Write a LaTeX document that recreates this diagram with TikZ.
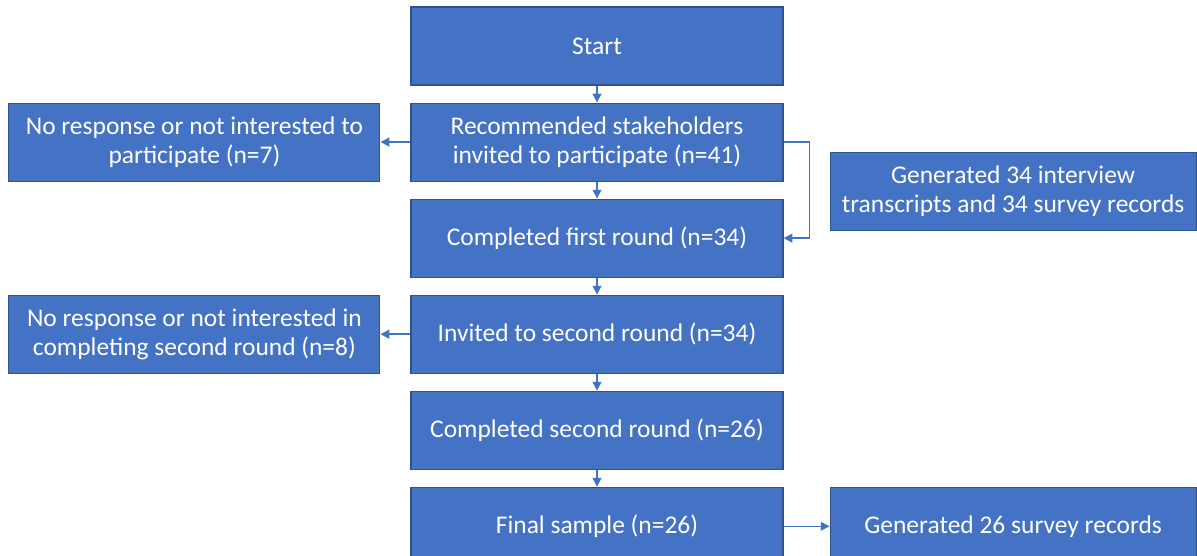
\documentclass[tikz,border=0pt]{standalone}
\usepackage{fontspec}
\setmainfont{Carlito}
\usetikzlibrary{positioning,arrows.meta}
\definecolor{boxblue}{HTML}{4472C4}
\definecolor{edgeblue}{HTML}{2F528F}
\begin{document}
\begin{tikzpicture}[node distance={0.34cm}, line width=0.85pt,
    main/.style = {draw=edgeblue, line width=0.6pt, fill=boxblue, text=white, align=center,
                   minimum width=7.44cm, minimum height=1.56cm, inner sep=2pt,
                   font=\fontsize{14.5}{16.5}\selectfont},
    side/.style = {main, minimum width=7.42cm},
    link/.style = {draw=boxblue, -{Triangle[length=5pt,width=5pt]}}]
    \useasboundingbox (0,0) rectangle (23.94,-11.12);
    \node[main] (1) at (11.94,-0.92)    {Start};
    \node[main] (2) [below=of 1]        {Recommended stakeholders\\invited to participate (n=41)};
    \node[main] (3) [below=of 2]        {Completed first round (n=34)};
    \node[main] (4) [below=of 3]        {Invited to second round (n=34)};
    \node[main] (5) [below=of 4]        {Completed second round (n=26)};
    \node[main] (6) [below=of 5]        {Final sample (n=26)};
    \node[side] (7) [left=0.6cm of 2]   {No response or not interested to\\participate (n=7)};
    \node[side] (8) [left=0.6cm of 4]   {No response or not interested in\\completing second round (n=8)};
    \node[side, minimum width=7.32cm] (9) [right=0.92cm of 2, yshift=-0.98cm]
                                        {Generated 34 interview\\transcripts and 34 survey records};
    \node[side, minimum width=7.32cm] (10) [right=0.92cm of 6] {Generated 26 survey records};

    \draw[link] (1) -- (2);
    \draw[link] (2) -- (3);
    \draw[link] (3) -- (4);
    \draw[link] (4) -- (5);
    \draw[link] (5) -- (6);
    \draw[link] (2) -- (7);
    \draw[link] (4) -- (8);
    \draw[link] (2.east) -- ++(0.52,0) |- (3.east);
    \draw[link] (6) -- (10);
\end{tikzpicture}
\end{document}
